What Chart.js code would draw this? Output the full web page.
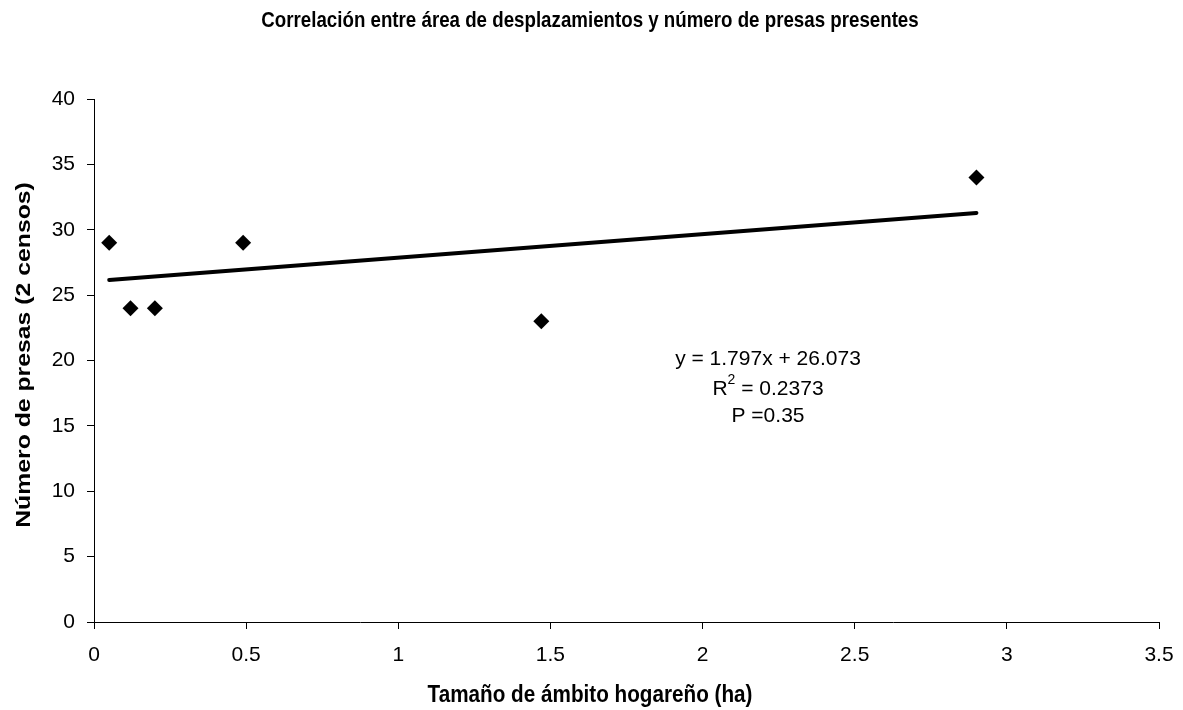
<!DOCTYPE html>
<html>
<head>
<meta charset="utf-8">
<script src="https://cdn.jsdelivr.net/npm/chart.js@4"></script>
<style>
  html, body { margin: 0; padding: 0; background: #fff; }
  #wrap { width: 1183px; height: 710px; }
</style>
</head>
<body>
<div id="wrap"><canvas id="c" width="1183" height="710"></canvas></div>
<script>
const FONT = "'Liberation Sans', Arial, sans-serif";
const TITLE = "Correlación entre área de desplazamientos y número de presas presentes";
const X_TITLE = "Tamaño de ámbito hogareño (ha)";
const Y_TITLE = "Número de presas (2 censos)";

// home range (ha) vs number of prey
const areaHa = [0.05, 0.12, 0.2, 0.49, 1.47, 2.9];
const presas = [29, 24, 24, 29, 23, 34];

// linear trend endpoints (y = 1.797x + 26.073)
const trendX = [0.05, 2.9];
const trendY = [26.16, 31.28];

const eqLines = ["y = 1.797x + 26.073", " = 0.2373", "P =0.35"];

// bold labels in the source look a bit taller than wide
function stretchedText(ctx, text, x, y, sx, sy, rot) {
  ctx.save();
  ctx.translate(x, y);
  if (rot) ctx.rotate(rot);
  ctx.scale(sx, sy);
  ctx.fillText(text, 0, 0);
  ctx.restore();
}

const notes = {
  id: "notes",
  afterDraw(chart) {
    const ctx = chart.ctx;
    ctx.save();
    ctx.fillStyle = "#000";
    ctx.textAlign = "center";
    ctx.textBaseline = "middle";

    ctx.font = "bold 19px " + FONT;
    stretchedText(ctx, TITLE, 590, 21, 0.985, 1.17);
    ctx.font = "bold 21px " + FONT;
    stretchedText(ctx, X_TITLE, 590, 695, 0.985, 1.17);
    stretchedText(ctx, Y_TITLE, 24, 355, 1.18, 1.0, -Math.PI / 2);

    // regression note
    ctx.font = "21px " + FONT;
    ctx.fillText(eqLines[0], 768, 359);
    const wL = ctx.measureText("R").width, wR = ctx.measureText(eqLines[1]).width;
    ctx.font = "14px " + FONT;
    const w2 = ctx.measureText("2").width;
    const x0 = 768 - (wL + w2 + wR) / 2;
    ctx.textAlign = "left";
    ctx.font = "21px " + FONT;
    ctx.fillText("R", x0, 389);
    ctx.font = "14px " + FONT;
    ctx.fillText("2", x0 + wL, 380);
    ctx.font = "21px " + FONT;
    ctx.fillText(eqLines[1], x0 + wL + w2, 389);
    ctx.textAlign = "center";
    ctx.fillText(eqLines[2], 768, 416);
    ctx.restore();
  },
};

new Chart(document.getElementById("c"), {
  type: "scatter",
  data: {
    datasets: [
      {
        data: areaHa.map((x, i) => ({ x, y: presas[i] })),
        pointStyle: "rectRot",
        pointRadius: 8,
        pointHoverRadius: 8,
        backgroundColor: "#000",
        borderColor: "#000",
        borderWidth: 0,
        order: 1,
      },
      {
        type: "line",
        data: trendX.map((x, i) => ({ x, y: trendY[i] })),
        borderColor: "#000",
        borderWidth: 4,
        pointRadius: 0,
        borderCapStyle: "round",
        order: 2,
      },
    ],
  },
  options: {
    responsive: false,
    animation: false,
    layout: { padding: { top: 99, right: 24, left: 0, bottom: 0 } },
    plugins: { legend: { display: false }, tooltip: { enabled: false } },
    scales: {
      x: {
        type: "linear",
        min: 0,
        max: 3.5,
        ticks: {
          stepSize: 0.5, color: "#000", font: { family: FONT, size: 21 }, padding: 14, maxRotation: 0,
          callback: (v) => String(v),
        },
        grid: { drawOnChartArea: false, color: "#000", tickLength: 7 },
        border: { color: "#000", width: 1 },
        afterFit(s) { s.height = 88; s.paddingLeft = 0; s.paddingRight = 0; },
      },
      y: {
        min: 0,
        max: 40,
        ticks: { stepSize: 5, color: "#000", font: { family: FONT, size: 21 }, padding: 12 },
        grid: { drawOnChartArea: false, color: "#000", tickLength: 7 },
        border: { color: "#000", width: 1 },
        afterFit(s) { s.width = 94; s.paddingTop = 0; s.paddingBottom = 0; },
      },
    },
  },
  plugins: [notes],
});
</script>
</body>
</html>
